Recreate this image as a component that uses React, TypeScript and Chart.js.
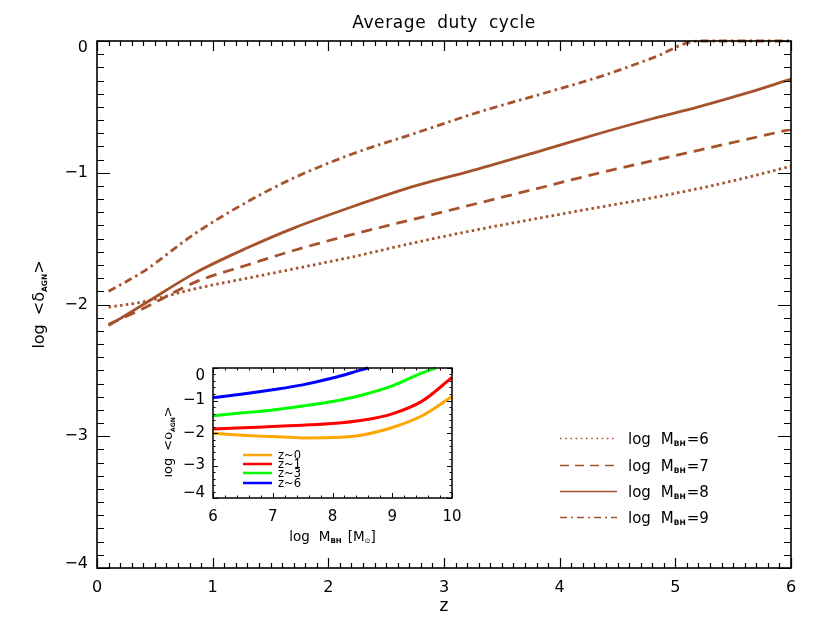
import React, { useEffect, useRef } from 'react';
import { Chart, registerables } from 'chart.js';

Chart.register(...registerables);

const FONT = '"DejaVu Sans", "Liberation Sans", sans-serif';
const BROWN = '#A5522D';

// ---------- main panel data (z vs log duty cycle) ----------
const redshift = [0.1, 0.4, 0.85, 1.3, 1.7, 2.2, 2.75, 3.3, 3.85, 4.35, 4.8, 5.2, 5.6, 6.0];
const dutyM6 = [-2.02, -1.98, -1.88, -1.8, -1.73, -1.64, -1.53, -1.43, -1.34, -1.26, -1.19, -1.12, -1.04, -0.95];
const dutyM7 = [-2.15, -2.03, -1.83, -1.7, -1.59, -1.47, -1.35, -1.23, -1.11, -1.0, -0.91, -0.83, -0.75, -0.67];
const dutyM8 = [-2.16, -2.0, -1.76, -1.57, -1.42, -1.26, -1.1, -0.97, -0.83, -0.7, -0.59, -0.5, -0.4, -0.29];
const dutyM9 = [-1.9, -1.75, -1.46, -1.22, -1.04, -0.86, -0.7, -0.54, -0.4, -0.27, -0.13, 0.0, 0.0, 0.0];
const mainLegend = ['6', '7', '8', '9'];
const mainXTicks = [0, 1, 2, 3, 4, 5, 6];
const mainYTicks = [0, -1, -2, -3, -4];

// ---------- inset data (log M_BH vs log duty cycle) ----------
const massGrid = [6, 6.5, 7, 7.5, 8, 8.5, 9, 9.5, 10];
const dutyZ0 = [-2.01, -2.07, -2.11, -2.15, -2.14, -2.06, -1.83, -1.47, -0.88];
const dutyZ1 = [-1.88, -1.84, -1.8, -1.76, -1.71, -1.61, -1.41, -1.02, -0.29];
const massZ3 = [6, 6.5, 7, 7.5, 8, 8.5, 9, 9.5, 9.73];
const dutyZ3 = [-1.47, -1.38, -1.29, -1.17, -1.03, -0.83, -0.55, -0.15, 0.0];
const massZ6 = [6, 6.5, 7, 7.5, 8, 8.5, 8.6];
const dutyZ6 = [-0.91, -0.8, -0.67, -0.52, -0.31, -0.05, 0.0];
const insetLegend = ['z~0', 'z~1', 'z~3', 'z~6'];
const insetColors = ['#FFA500', '#FF0000', '#00FF00', '#0000FF'];
const insetXTicks = [6, 7, 8, 9, 10];
const insetYTicks = [0, -1, -2, -3, -4];

const fmt = (v: number) => (v < 0 ? '\u2212' + Math.abs(v) : String(v));

type Seg = { t: string; size: number; dy?: number; bold?: boolean; gap?: number };

function setFont(ctx: CanvasRenderingContext2D, s: Seg) {
  ctx.font = `${s.bold ? 'bold ' : ''}${s.size}px ${FONT}`;
}
function richWidth(ctx: CanvasRenderingContext2D, segs: Seg[]) {
  let w = 0;
  segs.forEach((s, i) => {
    setFont(ctx, s);
    w += ctx.measureText(s.t).width + (i < segs.length - 1 ? s.gap || 0 : 0);
  });
  return w;
}
function drawRich(ctx: CanvasRenderingContext2D, segs: Seg[], x: number, y: number, align: 'left' | 'center') {
  const total = richWidth(ctx, segs);
  let cx = align === 'center' ? x - total / 2 : x;
  ctx.textAlign = 'left';
  ctx.textBaseline = 'alphabetic';
  segs.forEach((s) => {
    setFont(ctx, s);
    ctx.fillText(s.t, cx, y + (s.dy || 0));
    cx += ctx.measureText(s.t).width + (s.gap || 0);
  });
}

type FrameCfg = {
  id: string;
  xMin: number; xMax: number; xMinorStep: number; xMajorEvery: number;
  yMin: number; yMax: number; yMinorStep: number; yMajorEvery: number;
  xMajLen: number; xMinLen: number; yMajLen: number; yMinLen: number;
  frameW: number; tickW: number;
  xTicks: number[]; yTicks: number[];
  labelSize: number; xLabelDy: number; yLabelDx: number; clampTop: number; clampBot: number;
  extra: (chart: any, ctx: CanvasRenderingContext2D) => void;
};

function framePlugin(cfg: FrameCfg) {
  return {
    id: cfg.id,
    afterDatasetsDraw(chart: any) {
      const ctx: CanvasRenderingContext2D = chart.ctx;
      const a = chart.chartArea;
      const xs = chart.scales.x;
      const ys = chart.scales.y;
      ctx.save();
      ctx.strokeStyle = '#000';
      ctx.fillStyle = '#000';
      ctx.setLineDash([]);
      ctx.lineWidth = cfg.tickW;
      ctx.beginPath();
      const nx = Math.round((cfg.xMax - cfg.xMin) / cfg.xMinorStep);
      for (let i = 0; i <= nx; i++) {
        const v = cfg.xMin + i * cfg.xMinorStep;
        const px = Math.round(xs.getPixelForValue(v)) + 0.5;
        const len = i % cfg.xMajorEvery === 0 ? cfg.xMajLen : cfg.xMinLen;
        ctx.moveTo(px, a.bottom); ctx.lineTo(px, a.bottom - len);
        ctx.moveTo(px, a.top); ctx.lineTo(px, a.top + len);
      }
      const ny = Math.round((cfg.yMax - cfg.yMin) / cfg.yMinorStep);
      for (let i = 0; i <= ny; i++) {
        const v = cfg.yMin + i * cfg.yMinorStep;
        const py = Math.round(ys.getPixelForValue(v)) + 0.5;
        const len = i % cfg.yMajorEvery === 0 ? cfg.yMajLen : cfg.yMinLen;
        ctx.moveTo(a.left, py); ctx.lineTo(a.left + len, py);
        ctx.moveTo(a.right, py); ctx.lineTo(a.right - len, py);
      }
      ctx.stroke();
      ctx.lineWidth = cfg.frameW;
      ctx.strokeRect(a.left, a.top, a.right - a.left, a.bottom - a.top);

      ctx.font = `${cfg.labelSize}px ${FONT}`;
      ctx.textAlign = 'center';
      ctx.textBaseline = 'middle';
      cfg.xTicks.forEach((v) => {
        ctx.fillText(fmt(v), xs.getPixelForValue(v), a.bottom + cfg.xLabelDy);
      });
      ctx.textAlign = 'right';
      cfg.yTicks.forEach((v) => {
        let py = ys.getPixelForValue(v);
        py = Math.min(Math.max(py, a.top + cfg.clampTop), a.bottom - cfg.clampBot);
        ctx.fillText(fmt(v), a.left - cfg.yLabelDx, py);
      });
      cfg.extra(chart, ctx);
      ctx.restore();
    },
  };
}

function lineSet(xs: number[], ys: number[], color: string, width: number, dash: number[]) {
  return {
    data: xs.map((x, i) => ({ x, y: ys[i] })),
    borderColor: color,
    backgroundColor: color,
    borderWidth: width,
    borderDash: dash,
    borderCapStyle: 'butt' as const,
    fill: false,
    pointRadius: 0,
    cubicInterpolationMode: 'monotone' as const,
    clip: 4,
  };
}

const mainDashes = [[2.5, 3.3], [11, 7], [], [8, 4, 2.5, 4]];
const legendDashes = [[1.6, 3.6], [9, 6], [], [7, 4, 2, 4]];

export default function App() {
  const mainRef = useRef<HTMLCanvasElement>(null);
  const insetRef = useRef<HTMLCanvasElement>(null);

  useEffect(() => {
    if (!mainRef.current || !insetRef.current) return;

    const mainSeries = [dutyM6, dutyM7, dutyM8, dutyM9];
    const main = new Chart(mainRef.current, {
      type: 'line',
      data: {
        datasets: mainSeries.map((s, i) => lineSet(redshift, s, BROWN, 2.8, mainDashes[i])),
      },
      options: {
        animation: false,
        responsive: false,
        layout: { padding: { top: 41, right: 36, left: 0, bottom: 0 } },
        plugins: { legend: { display: false }, tooltip: { enabled: false }, title: { display: false } },
        scales: {
          x: {
            type: 'linear', min: 0, max: 6,
            grid: { display: false, drawTicks: false }, border: { display: false },
            ticks: { display: false },
            afterFit: (s: any) => { s.height = 62; },
          },
          y: {
            type: 'linear', min: -4, max: 0,
            grid: { display: false, drawTicks: false }, border: { display: false },
            ticks: { display: false },
            afterFit: (s: any) => { s.width = 97; },
          },
        },
      },
      plugins: [
        framePlugin({
          id: 'mainFrame',
          xMin: 0, xMax: 6, xMinorStep: 0.1, xMajorEvery: 10,
          yMin: -4, yMax: 0, yMinorStep: 0.1, yMajorEvery: 10,
          xMajLen: 10, xMinLen: 5, yMajLen: 13, yMinLen: 7,
          frameW: 1.6, tickW: 1.2,
          xTicks: mainXTicks, yTicks: mainYTicks,
          labelSize: 16, xLabelDy: 20, yLabelDx: 9, clampTop: 7, clampBot: 4,
          extra: (chart: any, ctx: CanvasRenderingContext2D) => {
            const a = chart.chartArea;
            // title
            ctx.fillStyle = '#000';
            ctx.font = `17px ${FONT}`;
            (ctx as any).letterSpacing = '0.6px';
            (ctx as any).wordSpacing = '5px';
            ctx.textAlign = 'center';
            ctx.textBaseline = 'alphabetic';
            ctx.fillText('Average duty cycle', (a.left + a.right) / 2, 28);
            (ctx as any).letterSpacing = '0px';
            (ctx as any).wordSpacing = '0px';
            // x title
            ctx.font = `17px ${FONT}`;
            ctx.fillText('z', (a.left + a.right) / 2, 611);
            // y title
            ctx.save();
            ctx.translate(44, (a.top + a.bottom) / 2);
            ctx.rotate(-Math.PI / 2);
            drawRich(ctx, [
              { t: 'log', size: 16, gap: 9 },
              { t: '<\u03B4', size: 16 },
              { t: 'AGN', size: 7.5, dy: 3, bold: true },
              { t: '>', size: 16 },
            ], 0, 0, 'center');
            ctx.restore();
            // legend
            const rows = [438, 465, 491, 517];
            mainLegend.forEach((m, i) => {
              ctx.save();
              ctx.strokeStyle = BROWN;
              ctx.lineWidth = 1.6;
              ctx.setLineDash(legendDashes[i]);
              ctx.beginPath();
              ctx.moveTo(560, rows[i] + 0.5);
              ctx.lineTo(617, rows[i] + 0.5);
              ctx.stroke();
              ctx.restore();
              drawRich(ctx, [
                { t: 'log', size: 15, gap: 10 },
                { t: 'M', size: 15 },
                { t: 'BH', size: 7.5, dy: 2, bold: true, gap: 1 },
                { t: '=' + m, size: 15 },
              ], 628, rows[i] + 5.5, 'left');
            });
          },
        }),
      ],
    });

    const insetX = [massGrid, massGrid, massZ3, massZ6];
    const insetY = [dutyZ0, dutyZ1, dutyZ3, dutyZ6];
    const inset = new Chart(insetRef.current, {
      type: 'line',
      data: {
        datasets: insetY.map((s, i) => lineSet(insetX[i], s, insetColors[i], 3, [])),
      },
      options: {
        animation: false,
        responsive: false,
        layout: { padding: { top: 10, right: 13, left: 0, bottom: 0 } },
        plugins: { legend: { display: false }, tooltip: { enabled: false }, title: { display: false } },
        scales: {
          x: {
            type: 'linear', min: 6, max: 10,
            grid: { display: false, drawTicks: false }, border: { display: false },
            ticks: { display: false },
            afterFit: (s: any) => { s.height = 50; },
          },
          y: {
            type: 'linear', min: -4, max: 0,
            grid: { display: false, drawTicks: false }, border: { display: false },
            ticks: { display: false },
            afterFit: (s: any) => { s.width = 48; },
          },
        },
      },
      plugins: [
        framePlugin({
          id: 'insetFrame',
          xMin: 6, xMax: 10, xMinorStep: 0.2, xMajorEvery: 5,
          yMin: -4, yMax: 0, yMinorStep: 0.2, yMajorEvery: 5,
          xMajLen: 5, xMinLen: 2.5, yMajLen: 5, yMinLen: 2.5,
          frameW: 1.5, tickW: 1,
          xTicks: insetXTicks, yTicks: insetYTicks,
          labelSize: 15, xLabelDy: 19, yLabelDx: 8, clampTop: 8, clampBot: 5,
          extra: (chart: any, ctx: CanvasRenderingContext2D) => {
            const a = chart.chartArea;
            ctx.fillStyle = '#000';
            // x title
            drawRich(ctx, [
              { t: 'log', size: 13.5, gap: 9 },
              { t: 'M', size: 13.5 },
              { t: 'BH', size: 7, dy: 2, bold: true, gap: 6 },
              { t: '[M', size: 13.5 },
              { t: '\u2299', size: 7, dy: 2 },
              { t: ']', size: 13.5 },
            ], (a.left + a.right) / 2, 183, 'center');
            // y title
            ctx.save();
            ctx.translate(7, (a.top + a.bottom) / 2 + 9);
            ctx.rotate(-Math.PI / 2);
            drawRich(ctx, [
              { t: 'log', size: 13, gap: 7 },
              { t: '<\u03B4', size: 13 },
              { t: 'AGN', size: 6, dy: 2.5, bold: true },
              { t: '>', size: 13 },
            ], 0, 0, 'center');
            ctx.restore();
            // legend
            const rows = [97, 106, 115, 125];
            insetLegend.forEach((lab, i) => {
              ctx.save();
              ctx.strokeStyle = insetColors[i];
              ctx.lineWidth = 2.5;
              ctx.beginPath();
              ctx.moveTo(78, rows[i]);
              ctx.lineTo(107, rows[i]);
              ctx.stroke();
              ctx.restore();
              ctx.font = `11.5px ${FONT}`;
              ctx.textAlign = 'left';
              ctx.textBaseline = 'middle';
              ctx.fillText(lab, 113, rows[i] + 1);
            });
          },
        }),
      ],
    });

    return () => {
      main.destroy();
      inset.destroy();
    };
  }, []);

  return (
    <div style={{ position: 'absolute', left: 0, top: 0, width: 827, height: 630, background: '#fff' }}>
      <canvas ref={mainRef} width={827} height={630} style={{ position: 'absolute', left: 0, top: 0 }} />
      <canvas ref={insetRef} width={300} height={190} style={{ position: 'absolute', left: 165, top: 358 }} />
    </div>
  );
}
